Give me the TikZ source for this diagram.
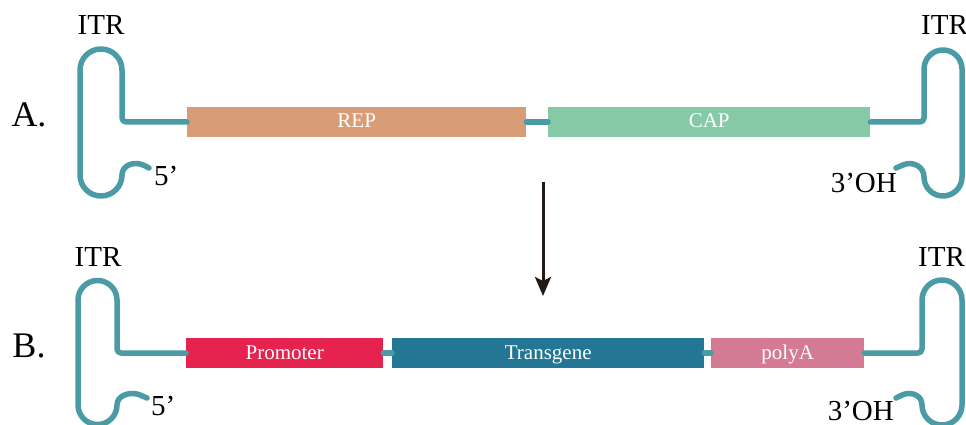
\documentclass[tikz,border=0pt]{standalone}
\usepackage{fontspec}
\setmainfont{Liberation Serif}
\usetikzlibrary{arrows.meta}
\definecolor{dnac}{HTML}{4A9BA6}
\definecolor{repc}{HTML}{D89C76}
\definecolor{capc}{HTML}{86C9A7}
\definecolor{promc}{HTML}{E6234F}
\definecolor{transc}{HTML}{237694}
\definecolor{polyc}{HTML}{D57A95}
\definecolor{arrc}{HTML}{231815}
\begin{document}
\begin{tikzpicture}[x=1pt,y=-1pt,
  dna/.style={draw=dnac,line width=5.5pt,line cap=round,line join=round},
  gbox/.style={draw=none,inner sep=0pt,minimum height=30pt,text height=12pt,text depth=0pt,anchor=west,text=white,font=\fontsize{21}{21}\selectfont},
  lab/.style={inner sep=0pt,text=black,font=\fontsize{29}{29}\selectfont},
  big/.style={inner sep=0pt,text=black,font=\fontsize{36}{36}\selectfont}]
\useasboundingbox (0,0) rectangle (966,425);
\clip (0,0) rectangle (966,425);
\fill[white] (0,0) rectangle (966,425);

% ---------- A ----------
\node[gbox,fill=repc,minimum width=339pt] (rep) at (187,122) {REP};
\node[gbox,fill=capc,minimum width=322pt] (cap) at (548,122) {CAP};
\draw[dna] (rep.east) -- (cap.west);
\draw[dna] (rep.west) -- (126,122) arc(90:180:4) -- (122,70) arc(0:-180:21) -- (80,175) arc(180:0:21)
  .. controls (122,166) and (132,162) .. (140,164) .. controls (144,165) and (147,167) .. (149,168);
\draw[dna] (cap.east) -- (920,122) arc(90:0:4) -- (924,69) arc(180:360:19) -- (962,177) arc(0:180:19)
  .. controls (924,167) and (914,162) .. (906,164) .. controls (902,165) and (899,167) .. (896,168);
\node[lab] (itra1) at (101,25) {ITR};
\node[lab,anchor=west] (itra2) at (921,25) {ITR};
\node[lab,anchor=west] (fivea) at (154,176) {5’};
\node[lab,anchor=east] (threea) at (897,183) {3’OH};
\node[big] (la) at (29,115) {A.};

% ---------- arrow ----------
\coordinate (ar1) at (543,182);
\coordinate (ar2) at (543,296);
\draw[arrc,line width=3pt,-{Stealth[length=19pt,width=16pt,inset=4pt]}] (ar1) -- (ar2);

% ---------- B ----------
\node[gbox,fill=promc,minimum width=197pt] (prom) at (186,353) {Promoter};
\node[gbox,fill=transc,minimum width=312pt] (trans) at (392,353) {Transgene};
\node[gbox,fill=polyc,minimum width=153pt] (poly) at (711,353) {polyA};
\draw[dna] (prom.east) -- (trans.west);
\draw[dna] (trans.east) -- (poly.west);
\draw[dna] (prom.west) -- (121,353) arc(90:180:4) -- (117,300) arc(0:-180:19.5) -- (78,405) arc(180:0:19.5)
  .. controls (117,396) and (128,392) .. (137,394) .. controls (141,395) and (144,397) .. (147,398);
\draw[dna] (poly.east) -- (918,353) arc(90:0:4) -- (922,300) arc(180:360:20) -- (962,405) arc(0:180:20)
  .. controls (922,396) and (913,392) .. (905,394) .. controls (901,395) and (899,397) .. (896,398);
\node[lab] (itrb1) at (98,257) {ITR};
\node[lab,anchor=west] (itrb2) at (918,257) {ITR};
\node[lab,anchor=west] (fiveb) at (151,406) {5’};
\node[lab,anchor=east] (threeb) at (894,411) {3’OH};
\node[big] (lb) at (29,346) {B.};
\end{tikzpicture}
\end{document}
